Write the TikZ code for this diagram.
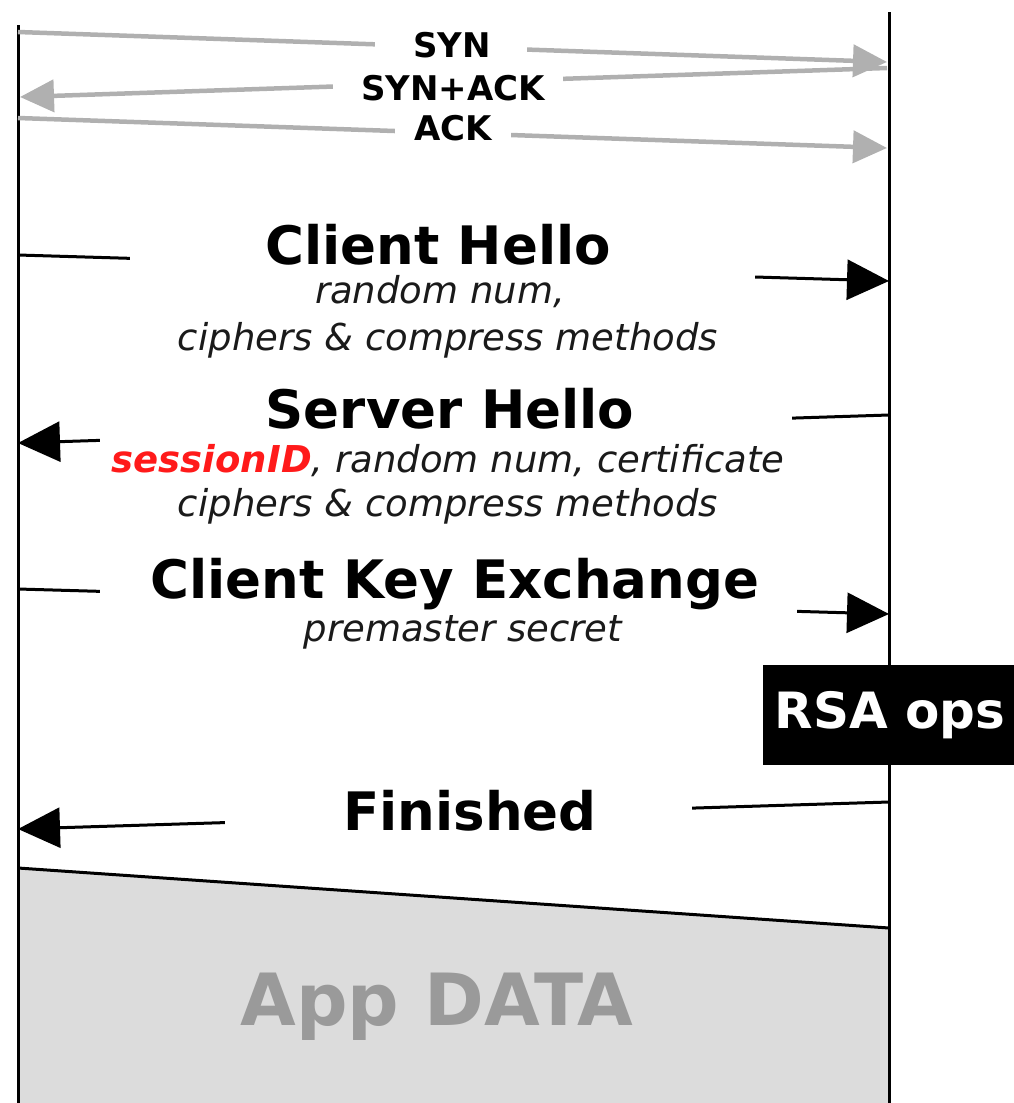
\documentclass[tikz,border=0pt]{standalone}
\usepackage{fontspec}
\setmainfont{DejaVu Sans}
\usetikzlibrary{arrows.meta}
\definecolor{synGray}{HTML}{B0B0B0}
\definecolor{appGray}{HTML}{DCDCDC}
\definecolor{appText}{HTML}{9A9A9A}
\definecolor{subText}{HTML}{1A1A1A}
\definecolor{sidRed}{HTML}{FF1A1A}
\newcommand{\fs}[1]{\fontsize{#1}{#1}\selectfont}
\begin{document}
\begin{tikzpicture}[x=1pt,y=-1pt,
  lifeline/.style={line width=3pt},
  tcp/.style={synGray,line width=4.5pt,-{Triangle[length=34pt,width=32pt]}},
  tls/.style={line width=3pt,-{Triangle[length=42pt,width=40pt]}},
  gapbox/.style={fill=white,inner sep=0pt,minimum height=34pt},
  tcplabel/.style={anchor=base,inner sep=0pt,font=\fs{34}\bfseries},
  msgtitle/.style={anchor=base,inner sep=0pt,font=\fs{53}\bfseries},
  msgdetail/.style={anchor=base,inner sep=0pt,font=\fs{37}\itshape,text=subText}]
\useasboundingbox (0,0) rectangle (1014,1103);
% app data area
\coordinate (appL) at (18,868); \coordinate (appR) at (889,928);
\fill[appGray] (appL) -- (appR) -- (889,1103) -- (18,1103) -- cycle;
\draw[line width=3pt] (appL) -- (appR);
% client and server
\coordinate (clientTop) at (18,25); \coordinate (clientBot) at (18,1103);
\coordinate (serverTop) at (889,12); \coordinate (serverBot) at (889,1103);
\draw[lifeline] (clientTop) -- (clientBot);
\draw[lifeline] (serverTop) -- (serverBot);
% tcp handshake
\coordinate (c1) at (18,32);  \coordinate (s1) at (887,62);
\coordinate (s2) at (887,68); \coordinate (c2) at (20,97);
\coordinate (c3) at (18,118); \coordinate (s3) at (887,148);
\draw[tcp] (c1) -- (s1);
\draw[tcp] (s2) -- (c2);
\draw[tcp] (c3) -- (s3);
\node[gapbox,minimum width=152pt] (synGap) at (451,47) {};
\node[gapbox,minimum width=230pt] (synackGap) at (448,83) {};
\node[gapbox,minimum width=116pt] (ackGap) at (453,133) {};
\node[tcplabel] (syn) at (452,57) {SYN};
\node[tcplabel] (synack) at (453,100) {SYN+ACK};
\node[tcplabel] (ack) at (453,140) {ACK};
% tls handshake
\coordinate (c4) at (18,255);  \coordinate (s4) at (889,281);
\coordinate (s5) at (889,415); \coordinate (c5) at (18,443);
\coordinate (c6) at (18,589);  \coordinate (s6) at (889,614);
\coordinate (s7) at (889,802); \coordinate (c7) at (18,829);
\draw[tls] (c4) -- (s4);
\draw[tls] (s5) -- (c5);
\draw[tls] (c6) -- (s6);
\draw[tls] (s7) -- (c7);
\node[gapbox,minimum width=625pt] (chGap) at (442,268) {};
\node[gapbox,minimum width=692pt] (shGap) at (446,429) {};
\node[gapbox,minimum width=697pt] (ckeGap) at (448,601) {};
\node[gapbox,minimum width=467pt] (finGap) at (458,815) {};
\node[msgtitle] (ch) at (438,264) {Client Hello};
\node[msgdetail] (chRand) at (440,303) {random num,};
\node[msgdetail] (chCiph) at (448,350) {ciphers \& compress methods};
\node[msgtitle] (sh) at (450,428) {Server Hello};
\node[msgdetail] (shSid) at (448,472) {\textcolor{sidRed}{\bfseries sessionID}, random num, certificate};
\node[msgdetail] (shCiph) at (448,516) {ciphers \& compress methods};
\node[msgtitle] (cke) at (455,598) {Client Key Exchange};
\node[msgdetail] (ckePre) at (463,641) {premaster secret};
\node[msgtitle] (fin) at (470,830) {Finished};
% server side work
\node[fill=black,text=white,font=\fs{50}\bfseries,minimum width=254pt,minimum height=100pt] (rsa) at (890,715) {RSA ops};
\node[anchor=base,font=\fs{72}\bfseries,text=appText] (app) at (437,1025) {App DATA};
\end{tikzpicture}
\end{document}
